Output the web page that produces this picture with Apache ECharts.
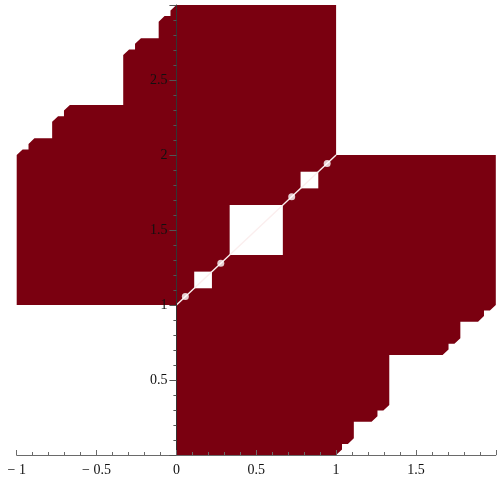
<!DOCTYPE html>
<html>
<head>
<meta charset="utf-8">
<script src="https://cdn.jsdelivr.net/npm/echarts@6/dist/echarts.min.js"></script>
<style>
  html, body { margin: 0; padding: 0; background: #fff; }
  #main { width: 500px; height: 500px; }
</style>
</head>
<body>
<div id="main"></div>
<script>
// staircase on top of the left block, from (-1,2) up to (0,3)
var leftTopEdge = [
  [-1, 2], [-0.963, 2.037], [-0.926, 2.037], [-0.926, 2.074], [-0.889, 2.111],
  [-0.778, 2.111], [-0.778, 2.222], [-0.741, 2.259], [-0.704, 2.259], [-0.704, 2.296],
  [-0.667, 2.333], [-0.333, 2.333], [-0.333, 2.667], [-0.296, 2.704], [-0.259, 2.704],
  [-0.259, 2.741], [-0.222, 2.778], [-0.111, 2.778], [-0.111, 2.889], [-0.074, 2.926],
  [-0.037, 2.926], [-0.037, 2.963], [0, 3]
];
// staircase under the right block, from (1,0) up to (2,1)
var rightBottomEdge = [
  [1, 0], [1.037, 0.037], [1.037, 0.074], [1.074, 0.074], [1.111, 0.111],
  [1.111, 0.222], [1.222, 0.222], [1.259, 0.259], [1.259, 0.296], [1.296, 0.296],
  [1.333, 0.333], [1.333, 0.667], [1.667, 0.667], [1.704, 0.704], [1.704, 0.741],
  [1.741, 0.741], [1.778, 0.778], [1.778, 0.889], [1.889, 0.889], [1.926, 0.926],
  [1.926, 0.963], [1.963, 0.963], [2, 1]
];
// plain corners of the outline
var lowerLeftCorners = [[-1, 1], [0, 1], [0, 0]];
var upperRightCorners = [[2, 2], [1, 2], [1, 3]];

// white holes along the diagonal y = x + 1 : centre x, centre y, side
var squareHoles = [[0.5, 1.5, 0.333], [0.167, 1.167, 0.111], [0.833, 1.833, 0.111]];
var dotHoles = [[0.056, 1.056], [0.278, 1.278], [0.722, 1.722], [0.944, 1.944]];
var diagonal = [[0, 1], [1, 2]];

var fillColor = "#7a0010";

var outline = lowerLeftCorners
  .concat(rightBottomEdge)
  .concat(upperRightCorners)
  .concat(leftTopEdge.slice().reverse());

var gridLeft = 16.7, gridRight = 4.2;
var plotWidth = 500 - gridLeft - gridRight;

var myChart = echarts.init(document.getElementById("main"));

function minusLabel(v) {
  if (v < 0) return "\u2212 " + Math.abs(v);
  return String(v);
}

var labelStyle = {
  fontFamily: "Liberation Serif",
  fontSize: 14,
  color: "#111",
};

var option = {
  animation: false,
  grid: {
    left: gridLeft, right: gridRight, top: 5, bottom: 45,
    containLabel: false, outerBoundsMode: "none",
  },
  xAxis: {
    type: "value",
    min: -1,
    max: 2,
    interval: 0.5,
    z: 5,
    splitLine: { show: false },
    axisLine: { lineStyle: { color: "#6a6a6a", width: 1 } },
    axisTick: { inside: true, length: 5, lineStyle: { color: "#6a6a6a" } },
    minorTick: { show: true, splitNumber: 5, length: 3, lineStyle: { color: "#6a6a6a" } },
    axisLabel: Object.assign({ margin: 8, showMaxLabel: false, formatter: minusLabel }, labelStyle),
  },
  yAxis: {
    type: "value",
    min: 0,
    max: 3,
    interval: 0.5,
    z: 5,
    // shift the whole axis (line, ticks, labels) over to x = 0
    offset: -plotWidth / 3,
    splitLine: { show: false },
    axisLine: { onZero: false, lineStyle: { color: "#333", width: 1 } },
    axisTick: { inside: false, length: 7, lineStyle: { color: "#555" } },
    minorTick: { show: true, splitNumber: 5, length: 3, lineStyle: { color: "#555" } },
    axisLabel: Object.assign({ margin: 9, showMinLabel: false, showMaxLabel: false }, labelStyle),
  },
  series: [
    {
      // the filled region
      type: "custom",
      z: 1,
      data: [[0, 0]],
      renderItem: function (params, api) {
        var pts = outline.map(function (p) { return api.coord(p); });
        return { type: "polygon", shape: { points: pts }, style: { fill: fillColor } };
      },
    },
    {
      // square holes
      type: "custom",
      z: 2,
      encode: { x: 0, y: 1 },
      data: squareHoles,
      renderItem: function (params, api) {
        var c = api.coord([api.value(0), api.value(1)]);
        var s = api.size([api.value(2), api.value(2)]);
        return {
          type: "rect",
          shape: { x: c[0] - s[0] / 2, y: c[1] - s[1] / 2, width: s[0], height: s[1] },
          style: { fill: "#fff" },
        };
      },
    },
    {
      type: "line",
      z: 3,
      data: diagonal,
      showSymbol: false,
      lineStyle: { color: "#fbeeee", width: 1.4 },
    },
    {
      type: "scatter",
      z: 4,
      data: dotHoles,
      symbol: "circle",
      symbolSize: 7,
      itemStyle: { color: "#fff" },
    },
  ],
};

myChart.setOption(option);
</script>
</body>
</html>
